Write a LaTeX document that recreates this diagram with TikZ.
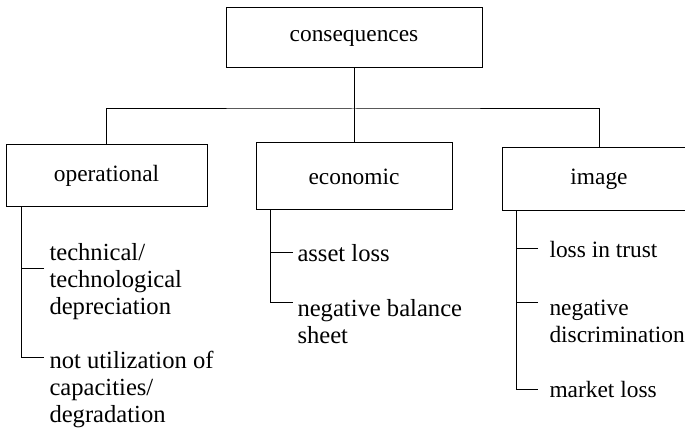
\documentclass[tikz,border=0pt]{standalone}
\usepackage{fontspec}
\setmainfont{Liberation Serif}

\tikzset{
  box/.style={draw, line width=0.5pt, inner sep=0pt, font=\fontsize{11.7}{13.5}\selectfont},
  item/.style={anchor=west, align=left, inner sep=0pt},
}

\begin{document}
\begin{tikzpicture}[x=0.5pt, y=-0.5pt, line width=0.5pt, font=\fontsize{12.3}{13.5}\selectfont]
        \useasboundingbox (0,0) rectangle (685,431);
        % boxes
        \node[box, minimum width=128pt, minimum height=30pt] (cons) at (354,38) {consequences};
        \node[box, minimum width=100.5pt, minimum height=31pt] (oper) at (106.5,176) {operational};
        \node[box, minimum width=98pt, minimum height=33.5pt] (econ) at (354,176.5) {economic};
        \node[box, minimum width=97pt, minimum height=31.5pt] (imag) at (599,179.5) {image};

        % tree
        \coordinate (bus) at (354,109);
        \draw (cons) -- (econ);
        \draw (oper) |- (bus) -| (imag);

        % operational
        \node[item] (op1) at (49,282) {technical/\\technological\\depreciation};
        \node[item] (op2) at (49,389) {not utilization of\\capacities/\\degradation};
        \coordinate (opS) at ([xshift=8pt]oper.south west);
        \coordinate (opB1) at (44,269);
        \coordinate (opB2) at (44,358);
        \draw (opS) |- (opB2);
        \draw (opB1) -- (opB1 -| opS);

        % economic
        \node[item] (ec1) at (297,253) {asset loss};
        \node[item] (ec2) at (297,321.5) {negative balance\\sheet};
        \coordinate (ecS) at ([xshift=7.5pt]econ.south west);
        \coordinate (ecB1) at (293,253);
        \coordinate (ecB2) at (293,303);
        \draw (ecS) |- (ecB2);
        \draw (ecB1) -- (ecB1 -| ecS);

        % image
        \begin{scope}[font=\fontsize{11.7}{13.5}\selectfont]
        \node[item] (im1) at (549,250) {loss in trust};
        \node[item] (im2) at (549,321) {negative\\discrimination};
        \node[item] (im3) at (549,390) {market loss};
        \end{scope}
        \coordinate (imS) at ([xshift=7.5pt]imag.south west);
        \coordinate (imB1) at (538,249);
        \coordinate (imB2) at (538,303);
        \coordinate (imB3) at (538,390);
        \draw (imS) |- (imB3);
        \draw (imB1) -- (imB1 -| imS);
        \draw (imB2) -- (imB2 -| imS);
\end{tikzpicture}
\end{document}
